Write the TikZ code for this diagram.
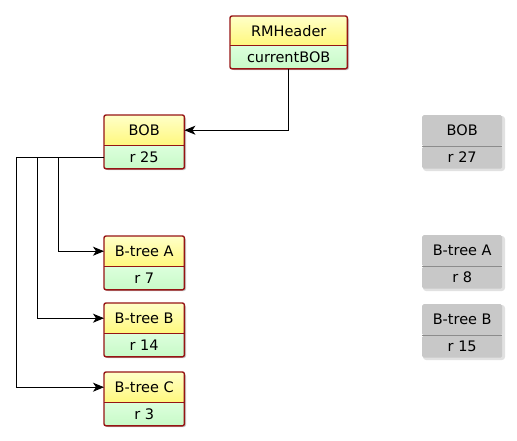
\documentclass[tikz,border=0pt]{standalone}
\usepackage{fontspec}
\setmainfont{DejaVu Sans}
\usetikzlibrary{arrows.meta}
\definecolor{ytopc}{RGB}{255,255,200}
\definecolor{ybotc}{RGB}{255,248,125}
\definecolor{gtopc}{RGB}{220,255,220}
\definecolor{gbotc}{RGB}{200,250,200}
\definecolor{framec}{RGB}{150,20,20}
\definecolor{grayc}{RGB}{200,200,200}
\definecolor{graydiv}{RGB}{140,140,140}
\definecolor{shadowc}{RGB}{200,200,200}
\definecolor{gshadowc}{RGB}{225,225,225}
\tikzset{
  every node/.style={font=\fontsize{14.5}{16}\selectfont, inner sep=0pt, text=black},
  ytop/.style={top color=ytopc, bottom color=ybotc, rounded corners=1.5pt},
  gbot/.style={top color=gtopc, bottom color=gbotc, rounded corners=1.5pt},
  gpart/.style={fill=grayc, rounded corners=1.5pt},
  frame/.style={draw=framec, line width=1.4pt, rounded corners=2pt},
  divider/.style={draw=framec, line width=1.1pt},
  gdivider/.style={draw=graydiv, line width=1pt},
  arr/.style={draw=black, line width=0.9pt, -{Stealth[length=11pt,width=9pt,inset=3pt]}},
  conn/.style={draw=black, line width=0.9pt}
}
% #1 name, #2 x, #3 y, #4 width, #5 top height, #6 top text, #7 bottom text
\newcommand\umlbox[7]{%
  \fill[shadowc, rounded corners=2pt] (#2+2,#3+2) rectangle ++(#4,#5+23);
  \node[ytop, minimum width=#4pt, minimum height=#5pt, anchor=north west] (#1) at (#2,#3) {#6};
  \node[gbot, minimum width=#4pt, minimum height=23pt, anchor=north] (#1r) at (#1.south) {#7};
  \draw[frame] (#1.north west) rectangle (#1r.south east);
  \draw[divider] (#1.south west) -- (#1.south east);
}
\newcommand\graybox[7]{%
  \fill[gshadowc, rounded corners=3pt] (#2+1,#3+1) rectangle ++(#4+2,#5+24);
  \node[gpart, minimum width=#4pt, minimum height=#5pt, anchor=north west] (#1) at (#2,#3) {#6};
  \node[gpart, minimum width=#4pt, minimum height=22pt, anchor=north] (#1r) at (#1.south) {#7};
  \draw[gdivider] (#1.south west) -- (#1.south east);
}
\begin{document}
\begin{tikzpicture}[x=1pt, y=-1pt]
  \useasboundingbox (0,0) rectangle (517,440);
  \umlbox{rm}{230}{16}{117}{29}{RMHeader}{currentBOB}
  \umlbox{bob}{104}{115}{80}{30}{BOB}{r 25}
  \umlbox{bta}{104}{236}{80}{30}{B-tree A}{r 7}
  \umlbox{btb}{104}{303}{80}{30}{B-tree B}{r 14}
  \umlbox{btc}{104}{372}{80}{30}{B-tree C}{r 3}
  \graybox{gbob}{422}{115}{80}{31}{BOB}{r 27}
  \graybox{gbta}{422}{235}{80}{31}{B-tree A}{r 8}
  \graybox{gbtb}{422}{304}{80}{31}{B-tree B}{r 15}
  \coordinate (xa) at (58,0);
  \coordinate (xb) at (37,0);
  \coordinate (xc) at (16,0);
  \draw[arr] (rmr.south) |- (bob.east);
  \draw[arr] (bobr.west) -- (xa |- bobr.west) -- (xa |- bta.west) -- (bta.west);
  \draw[arr] (xa |- bobr.west) -- (xb |- bobr.west) -- (xb |- btb.west) -- (btb.west);
  \draw[arr] (xb |- bobr.west) -- (xc |- bobr.west) -- (xc |- btc.west) -- (btc.west);
\end{tikzpicture}
\end{document}
